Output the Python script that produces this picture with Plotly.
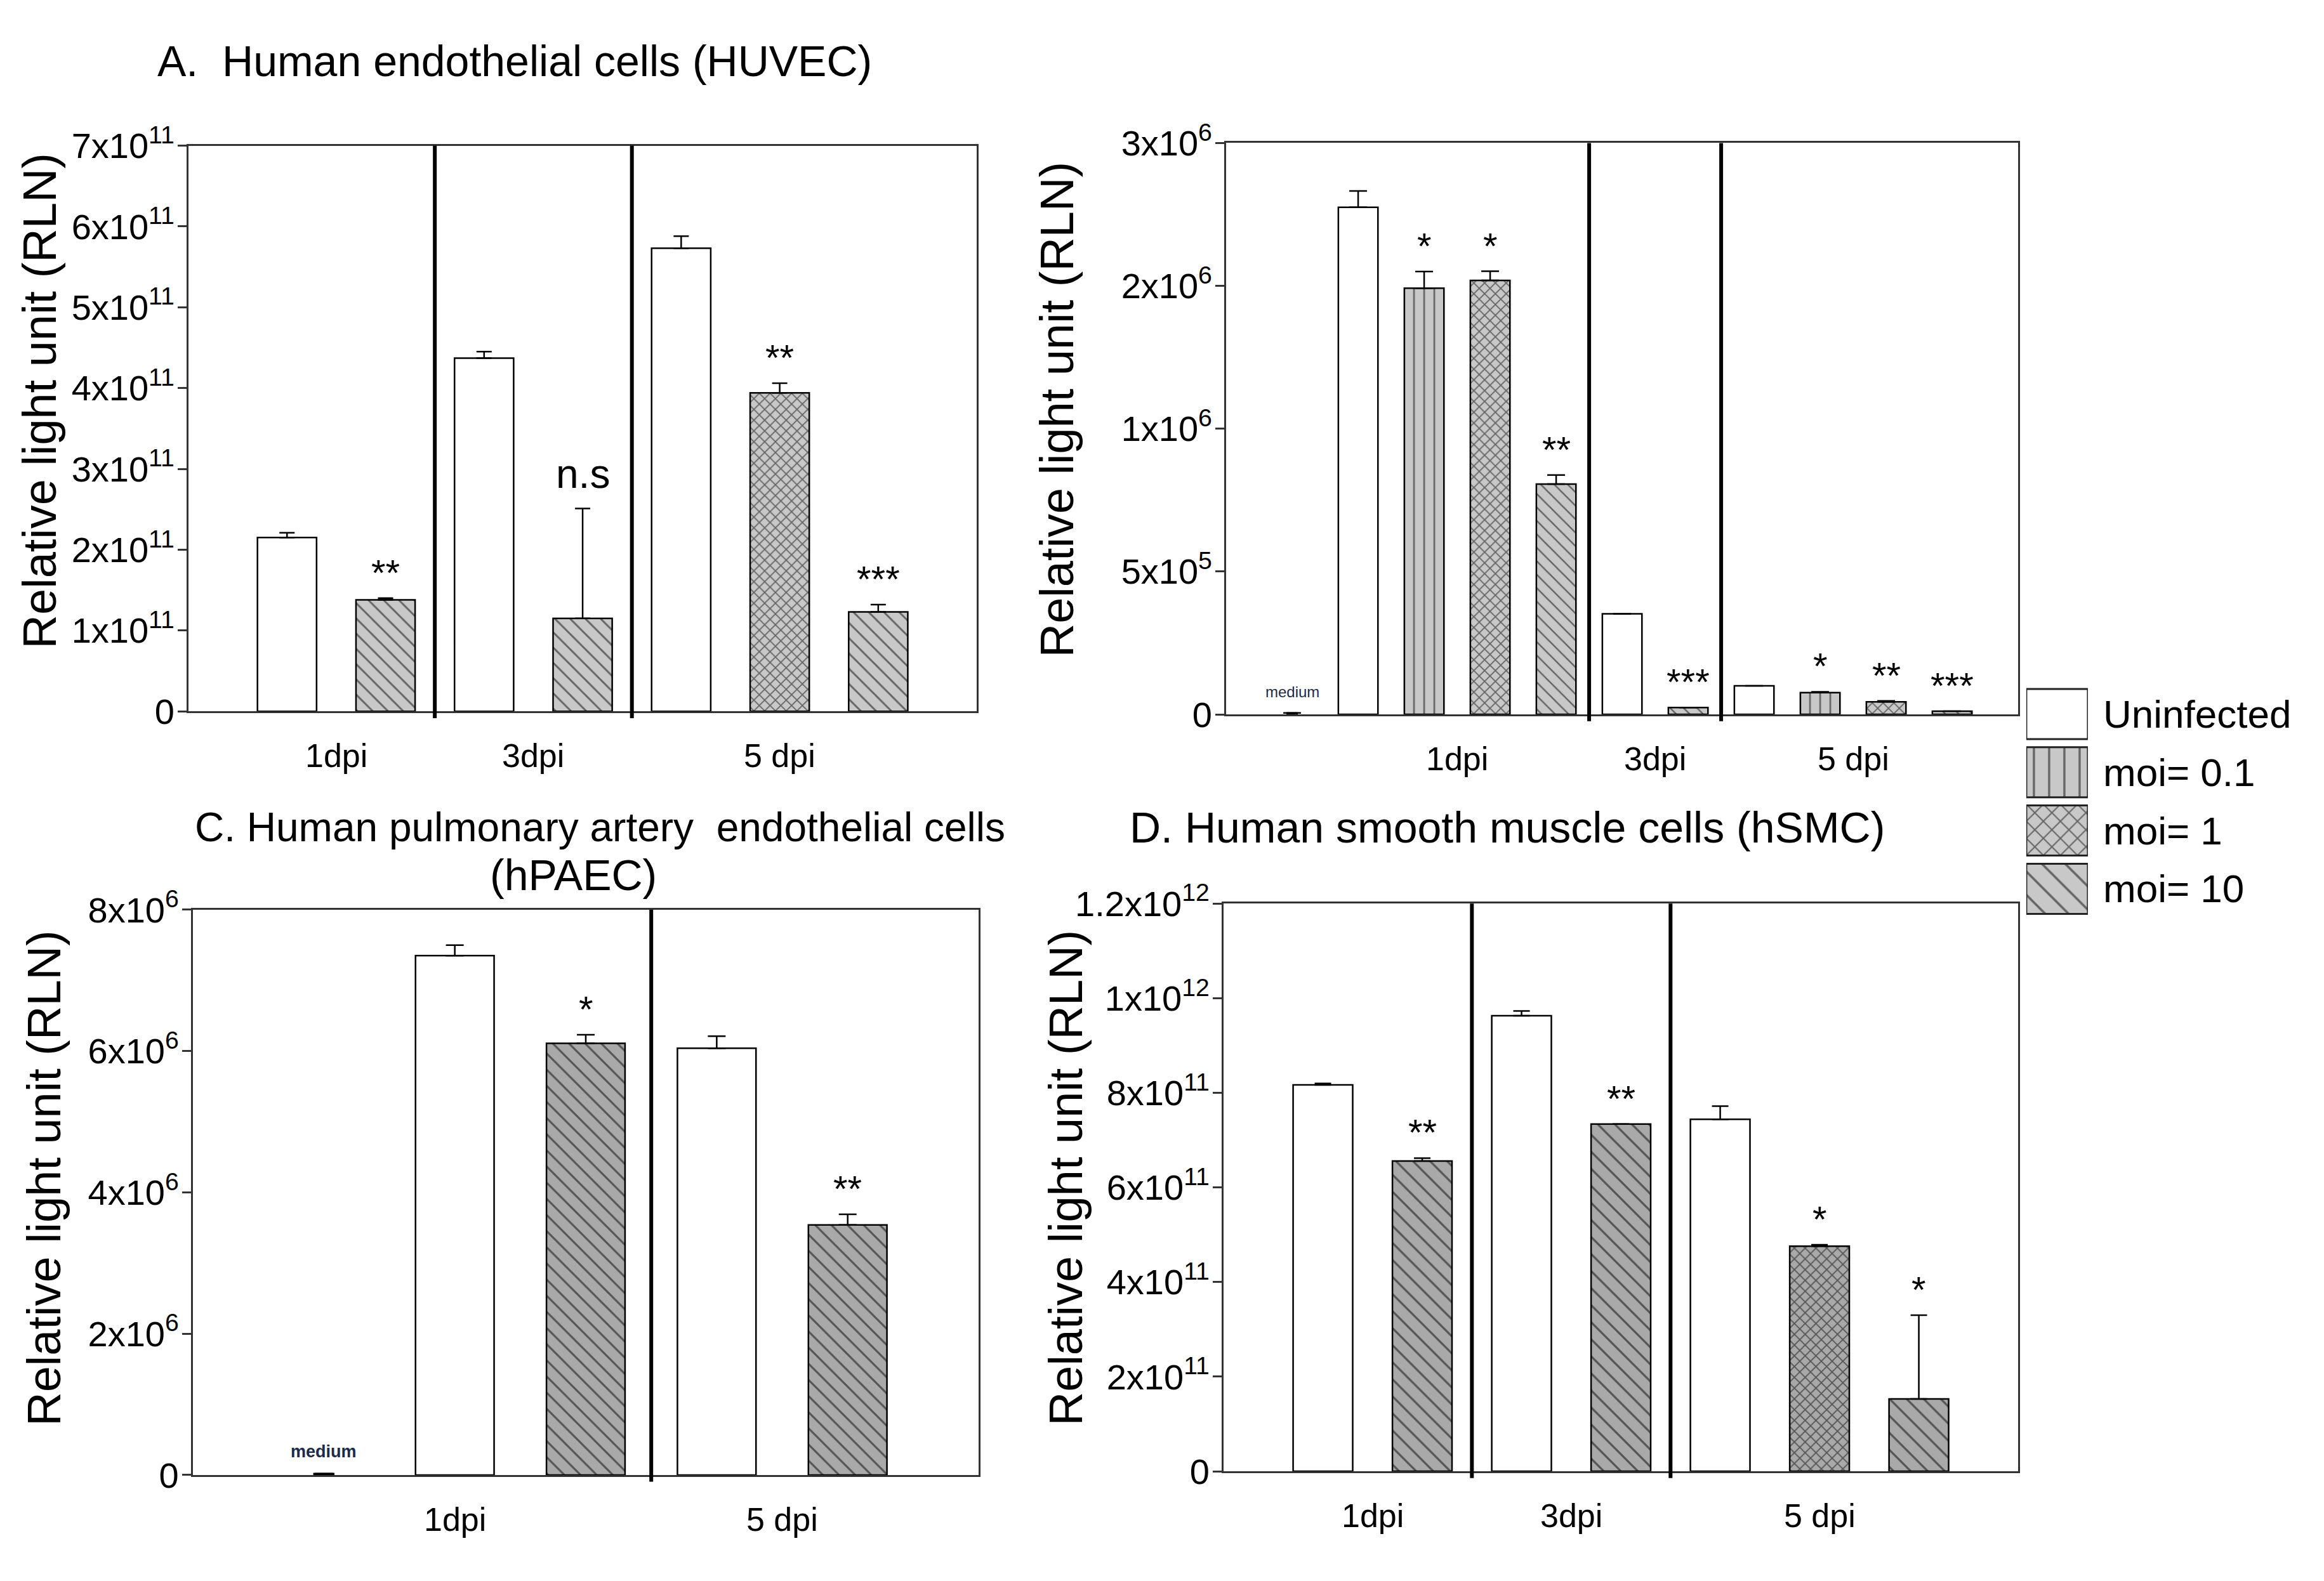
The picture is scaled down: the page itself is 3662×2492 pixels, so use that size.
import plotly.graph_objects as go

W, H = 3662, 2492
FONT = "Liberation Sans, Arial, sans-serif"
SERIES_NAMES = ["Uninfected", "moi= 0.1", "moi= 1", "moi= 10"]

# ---- data ----
# A. HUVEC
A_groups = ["1dpi", "1dpi", "3dpi", "3dpi", "5 dpi", "5 dpi", "5 dpi"]
A_series = ["Uninfected", "moi= 10", "Uninfected", "moi= 10", "Uninfected", "moi= 1", "moi= 10"]
A_values = [2.15e11, 1.38e11, 4.37e11, 1.15e11, 5.73e11, 3.94e11, 1.23e11]
A_errors = [0.06e11, 0.02e11, 0.08e11, 1.36e11, 0.15e11, 0.12e11, 0.09e11]
A_marks = ["", "**", "", "n.s", "", "**", "***"]
A_tickvals = [0, 1e11, 2e11, 3e11, 4e11, 5e11, 6e11, 7e11]
A_ticktext = ["0"] + [f"{k}x10<sup>11</sup>" for k in range(1, 8)]

# B. (no title) -- equally spaced ticks labelled 0, 5x10^5, 1x10^6, 2x10^6, 3x10^6
B_groups = ["", "1dpi", "1dpi", "1dpi", "1dpi", "3dpi", "3dpi", "5 dpi", "5 dpi", "5 dpi", "5 dpi"]
B_series = ["medium", "Uninfected", "moi= 0.1", "moi= 1", "moi= 10", "Uninfected", "moi= 10",
            "Uninfected", "moi= 0.1", "moi= 1", "moi= 10"]
B_values = [5e3, 1.775e6, 1.492e6, 1.519e6, 0.806e6, 0.352e6, 0.024e6, 0.100e6, 0.076e6, 0.044e6, 0.011e6]
B_errors = [0, 57e3, 58e3, 32e3, 32e3, 0, 0, 0, 3e3, 3e3, 0]
B_marks = ["medium", "", "*", "*", "**", "", "***", "", "*", "**", "***"]
B_tickvals = [0, 5e5, 1e6, 1.5e6, 2e6]
B_ticktext = ["0", "5x10<sup>5</sup>", "1x10<sup>6</sup>", "2x10<sup>6</sup>", "3x10<sup>6</sup>"]

# C. hPAEC
C_groups = ["1dpi", "1dpi", "1dpi", "5 dpi", "5 dpi"]
C_series = ["medium", "Uninfected", "moi= 10", "Uninfected", "moi= 10"]
C_values = [0.02e6, 7.35e6, 6.11e6, 6.04e6, 3.54e6]
C_errors = [0, 0.15e6, 0.12e6, 0.17e6, 0.15e6]
C_marks = ["<b>medium</b>", "", "*", "", "**"]
C_tickvals = [0, 2e6, 4e6, 6e6, 8e6]
C_ticktext = ["0"] + [f"{k}x10<sup>6</sup>" for k in (2, 4, 6, 8)]

# D. hSMC
D_groups = ["1dpi", "1dpi", "3dpi", "3dpi", "5 dpi", "5 dpi", "5 dpi"]
D_series = ["Uninfected", "moi= 10", "Uninfected", "moi= 10", "Uninfected", "moi= 1", "moi= 10"]
D_values = [8.17e11, 6.56e11, 9.63e11, 7.34e11, 7.44e11, 4.76e11, 1.53e11]
D_errors = [0.03e11, 0.06e11, 0.10e11, 0, 0.28e11, 0.03e11, 1.77e11]
D_marks = ["", "**", "", "**", "", "*", "*"]
D_tickvals = [0, 2e11, 4e11, 6e11, 8e11, 1e12, 1.2e12]
D_ticktext = ["0", "2x10<sup>11</sup>", "4x10<sup>11</sup>", "6x10<sup>11</sup>",
              "8x10<sup>11</sup>", "1x10<sup>12</sup>", "1.2x10<sup>12</sup>"]

# ---- styling ----
PATTERN = {"Uninfected": "", "moi= 0.1": "|", "moi= 1": "x", "moi= 10": "\\", "medium": ""}
PATTERN_SIZE = {"|": 16, "x": 12, "\\": 17, "": 10}
SOLIDITY = {"|": 0.17, "x": 0.28, "\\": 0.17, "": 0.2}
MARK_SIZE = {"n.s": 64, "medium": 24, "<b>medium</b>": 27}
MARK_SHIFT = {"n.s": 16, "medium": 18, "<b>medium</b>": 18}

PANELS = [
    dict(ax="", groups=A_groups, series=A_series, values=A_values, errors=A_errors, marks=A_marks,
         tickvals=A_tickvals, ticktext=A_ticktext, xdom=[0.0811, 0.4203], ydom=[0.5530, 0.9213],
         xmax=8, gray="#c8c8c8", hatch=17, cap=12, ytitle=(0.0170, 0.755)),
    dict(ax="2", groups=B_groups, series=B_series, values=B_values, errors=B_errors, marks=B_marks,
         tickvals=B_tickvals, ticktext=B_ticktext, xdom=[0.5276, 0.8684], ydom=[0.5510, 0.9230],
         xmax=12, gray="#c8c8c8", hatch=15, cap=14, ytitle=(0.4549, 0.7495)),
    dict(ax="3", groups=C_groups, series=C_series, values=C_values, errors=C_errors, marks=C_marks,
         tickvals=C_tickvals, ticktext=C_ticktext, xdom=[0.0830, 0.4211], ydom=[0.0558, 0.4238],
         xmax=6, gray="#a9a9a9", hatch=18, cap=14, ytitle=(0.0190, 0.249)),
    dict(ax="4", groups=D_groups, series=D_series, values=D_values, errors=D_errors, marks=D_marks,
         tickvals=D_tickvals, ticktext=D_ticktext, xdom=[0.5265, 0.8684], ydom=[0.0582, 0.4278],
         xmax=8, gray="#a9a9a9", hatch=19, cap=13, ytitle=(0.4585, 0.249)),
]

fig = go.Figure()
annotations = []
shapes = []

for p in PANELS:
    xa, ya = "x" + p["ax"], "y" + p["ax"]
    slots = list(range(1, len(p["values"]) + 1))
    for name in ["medium"] + SERIES_NAMES:
        idx = [i for i, s in enumerate(p["series"]) if s == name]
        if not idx:
            continue
        shape = PATTERN[name]
        fill = "white" if name == "Uninfected" else ("#333333" if name == "medium" else p["gray"])
        size = p["hatch"] if shape == "\\" else PATTERN_SIZE[shape]
        fig.add_trace(go.Bar(
            x=[slots[i] for i in idx], y=[p["values"][i] for i in idx],
            width=0.15 if name == "medium" else 0.6,
            marker=dict(color=fill, line=dict(color="black", width=2.5),
                        pattern=dict(shape=shape, size=size, solidity=SOLIDITY[shape],
                                     fgcolor="black", bgcolor=fill)),
            error_y=dict(type="data", symmetric=False, array=[p["errors"][i] for i in idx],
                         arrayminus=[0] * len(idx), color="black", thickness=2.5, width=p["cap"]),
            xaxis=xa, yaxis=ya, showlegend=False, name=name,
        ))

    # significance marks above each bar's error bar
    for i, m in enumerate(p["marks"]):
        if not m:
            continue
        small = "medium" in m
        annotations.append(dict(
            x=slots[i], y=p["values"][i] + p["errors"][i], xref=xa, yref=ya, text=m,
            showarrow=False, yanchor="bottom", yshift=MARK_SHIFT.get(m, 6),
            font=dict(size=MARK_SIZE.get(m, 58), color="#1c2b4a" if small else "black", family=FONT),
        ))

    # group labels under the axis and thick dividers between groups
    labels = []
    for i, g in enumerate(p["groups"]):
        if g and (not labels or labels[-1][0] != g):
            labels.append([g, []])
        if g:
            labels[-1][1].append(slots[i])
    for g, members in labels:
        annotations.append(dict(
            x=sum(members) / len(members), y=0, xref=xa, yref=ya + " domain", text=g,
            showarrow=False, yanchor="middle", yshift=-70, font=dict(size=52, color="black", family=FONT),
        ))
    for i in range(1, len(slots)):
        g0, g1 = p["groups"][i - 1], p["groups"][i]
        if g0 and g1 and g0 != g1:
            xm = (slots[i - 1] + slots[i]) / 2
            shapes.append(dict(type="line", xref=xa, yref=ya + " domain", x0=xm, x1=xm, y0=-0.012, y1=1,
                               line=dict(color="black", width=6)))

    annotations.append(dict(
        x=p["ytitle"][0], y=p["ytitle"][1], xref="paper", yref="paper", text="Relative light unit (RLN)",
        textangle=-90, showarrow=False, xanchor="center", yanchor="middle",
        font=dict(size=74, color="black", family=FONT),
    ))

    axis_line = dict(showline=True, mirror=True, linecolor="#333333", linewidth=3,
                     showgrid=False, zeroline=False)
    fig.update_layout({
        ("xaxis" + p["ax"]): dict(domain=p["xdom"], range=[0, p["xmax"]], anchor=ya,
                                  showticklabels=False, ticks="", **axis_line),
        ("yaxis" + p["ax"]): dict(domain=p["ydom"], range=[0, p["tickvals"][-1]], anchor=xa,
                                  tickmode="array", tickvals=p["tickvals"], ticktext=p["ticktext"],
                                  ticks="outside", ticklen=14, tickwidth=3, tickcolor="#333333",
                                  ticklabelstandoff=-6,
                                  tickfont=dict(size=56, color="black", family=FONT), **axis_line),
    })

# panel titles
TITLES = [
    ("A.  Human endothelial cells (HUVEC)", 0.2215, 0.9763, 68),
    ("C. Human pulmonary artery  endothelial cells", 0.2583, 0.4775, 64),
    ("(hPAEC)", 0.2466, 0.4466, 68),
    ("D. Human smooth muscle cells (hSMC)", 0.6486, 0.4775, 68),
]
for text, tx, ty, fs in TITLES:
    annotations.append(dict(x=tx, y=ty, xref="paper", yref="paper", text=text, showarrow=False,
                            xanchor="center", yanchor="middle", font=dict(size=fs, color="black", family=FONT)))

# legend drawn as patterned swatches on its own small axis
LEGEND_SIZE = {"|": 24, "x": 19, "\\": 26, "": 10}
LEGEND_SOLIDITY = {"|": 0.14, "x": 0.2, "\\": 0.14, "": 0.2}
for k, name in enumerate(SERIES_NAMES):
    shape = PATTERN[name]
    fill = "white" if name == "Uninfected" else "#c8c8c8"
    fig.add_trace(go.Bar(
        x=[1], y=[k], orientation="h", width=0.86,
        marker=dict(color=fill, line=dict(color="#222222", width=3),
                    pattern=dict(shape=shape, size=LEGEND_SIZE[shape], solidity=LEGEND_SOLIDITY[shape],
                                 fgcolor="black", bgcolor=fill)),
        xaxis="x5", yaxis="y5", showlegend=False, name=name,
    ))
    annotations.append(dict(x=0.9045, y=k, xref="paper", yref="y5", text=name, showarrow=False,
                            xanchor="left", yanchor="middle", font=dict(size=62, color="black", family=FONT)))

fig.update_layout(
    xaxis5=dict(domain=[0.8719, 0.8984], range=[0, 1], visible=False, anchor="y5"),
    yaxis5=dict(domain=[0.4185, 0.5702], range=[3.5, -0.5], visible=False, anchor="x5"),
    width=W, height=H, margin=dict(l=0, r=0, t=0, b=0),
    paper_bgcolor="white", plot_bgcolor="white", barmode="overlay",
    font=dict(family=FONT, color="black"),
    annotations=annotations, shapes=shapes,
)

fig.write_html("out.html", config={"displayModeBar": False},
               post_script="document.body.style.margin='0px';")
